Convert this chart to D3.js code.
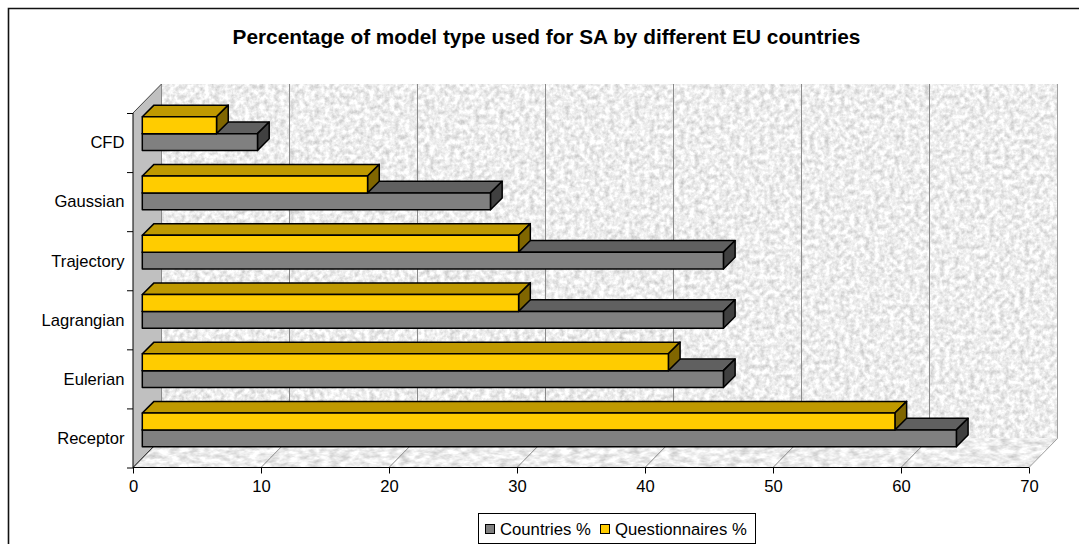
<!DOCTYPE html>
<html>
<head>
<meta charset="utf-8">
<script src="https://cdn.jsdelivr.net/npm/d3@7"></script>
<style>
html,body{margin:0;padding:0;background:#fff;overflow:hidden}
svg{display:block}
text{font-family:"Liberation Sans",Arial,sans-serif;fill:#000}
</style>
</head>
<body>
<svg id="chart" width="1079" height="544"></svg>
<script>
const categories = ["Receptor", "Eulerian", "Lagrangian", "Trajectory", "Gaussian", "CFD"];
const countries = [63.6, 45.4, 45.4, 45.4, 27.2, 9.0];
const questionnaires = [58.8, 41.1, 29.4, 29.4, 17.6, 5.8];
const xTicks = [0, 10, 20, 30, 40, 50, 60, 70];
const seriesNames = ["Countries %", "Questionnaires %"];

const svg = d3.select("#chart");

// Oblique projection of the chart box
const depthX = 28.5, depthY = -29;
const barShiftX = 9.3, barShiftY = -8;
const barDepthX = 11.7, barDepthY = -11.7;

const x = d3.scaleLinear().domain([0, 70]).range([133, 1029]);
const yEdge = d3.scaleLinear().domain([0, 6]).range([467.5, 113]);
const yBand = d3.scaleBand().domain(categories).range([467.5, 112]);
const barH = 16.8;

// Stone-like surface fills
const defs = svg.append("defs");
function stone(id, freq, seed) {
  const f = defs.append("filter").attr("id", id)
    .attr("x", 0).attr("y", 0).attr("width", 1).attr("height", 1)
    .attr("color-interpolation-filters", "sRGB");
  f.append("feTurbulence").attr("type", "fractalNoise")
    .attr("baseFrequency", freq).attr("numOctaves", 3).attr("seed", seed).attr("result", "n");
  f.append("feColorMatrix").attr("in", "n").attr("type", "matrix")
    .attr("values", "0.38 0 0 0 0.74  0.38 0 0 0 0.74  0.38 0 0 0 0.74  0 0 0 0 1")
    .attr("result", "c");
  f.append("feGaussianBlur").attr("in", "c").attr("stdDeviation", 0.7).attr("result", "b");
  f.append("feComposite").attr("in", "b").attr("in2", "SourceAlpha").attr("operator", "in");
}
stone("wallStone", "0.2", 4);
stone("floorStone", "0.1 0.22", 9);

const poly = pts => pts.map(p => p.join(",")).join(" ");
const x0 = x(0), x70 = x(70), yB = yEdge(0), yT = yEdge(6);

// Chart frame
svg.append("path").attr("d", `M8.5,544 V8.5 H1079`).attr("fill", "none")
  .attr("stroke", "#111").attr("stroke-width", 1.6);

// Back wall, floor and left wall
svg.append("polygon")
  .attr("points", poly([[x0 + depthX, yT + depthY], [x70 + depthX, yT + depthY], [x70 + depthX, yB + depthY], [x0 + depthX, yB + depthY]]))
  .attr("fill", "#000").attr("filter", "url(#wallStone)");
svg.append("polygon")
  .attr("points", poly([[x0, yB], [x70, yB], [x70 + depthX, yB + depthY], [x0 + depthX, yB + depthY]]))
  .attr("fill", "#000").attr("filter", "url(#floorStone)");
svg.append("polygon")
  .attr("points", poly([[x0, yT], [x0 + depthX, yT + depthY], [x0 + depthX, yB + depthY], [x0, yB]]))
  .attr("fill", "#c0c0c0");

// Gridlines running across the floor and up the back wall
svg.append("g").selectAll("polyline").data(xTicks).join("polyline")
  .attr("points", d => poly([[x(d), yB], [x(d) + depthX, yB + depthY], [x(d) + depthX, yT + depthY]]))
  .attr("fill", "none").attr("stroke", d => d === 70 ? "#a0a0a0" : "#8a8a8a").attr("stroke-width", 1);

// Darker outer edges of the left wall
svg.append("polyline")
  .attr("points", poly([[x0, yT], [x0 + depthX, yT + depthY]]))
  .attr("fill", "none").attr("stroke", "#444").attr("stroke-width", 1);
svg.append("polyline")
  .attr("points", poly([[x0, yB], [x0 + depthX, yB + depthY]]))
  .attr("fill", "none").attr("stroke", "#222").attr("stroke-width", 1);

// Draws one extruded bar: top, end cap, then front face
function bar(g, xEnd, yTop, front, top, side) {
  const l = x(0) + barShiftX, r = xEnd + barShiftX, b = yTop + barH;
  const dx = barDepthX, dy = barDepthY;
  const face = g.append("g").attr("stroke", "#000").attr("stroke-width", 1.5).attr("stroke-linejoin", "round");
  face.append("polygon").attr("points", poly([[l, yTop], [l + dx, yTop + dy], [r + dx, yTop + dy], [r, yTop]])).attr("fill", top);
  face.append("polygon").attr("points", poly([[r, yTop], [r + dx, yTop + dy], [r + dx, b + dy], [r, b]])).attr("fill", side);
  face.append("rect").attr("x", l).attr("y", yTop).attr("width", r - l).attr("height", barH).attr("fill", front);
}

const barsLayer = svg.append("g");
categories.map((c, i) => i).reverse().forEach(i => {
  const mid = yBand(categories[i]) + yBand.bandwidth() / 2 + barShiftY;
  const g = barsLayer.append("g");
  bar(g, x(countries[i]), mid, "#808080", "#606060", "#404040");
  bar(g, x(questionnaires[i]), mid - barH, "#ffcc00", "#bf9900", "#806600");
});

// Axes
const xAxis = svg.append("g").attr("transform", `translate(0,${yB})`)
  .call(d3.axisBottom(x).tickValues(xTicks).tickSize(6).tickPadding(5).tickFormat(d3.format("d")));
xAxis.selectAll("text").attr("font-size", 16.6).style("font-family", '"Liberation Sans"').attr("fill", "#000").attr("y", 13);
xAxis.selectAll("path,line").attr("stroke", "#000").attr("stroke-width", 1);
xAxis.select(".domain").attr("d", `M${x0},0H${x70}`);

const yAxis = svg.append("g").attr("transform", `translate(${x0},0)`)
  .call(d3.axisLeft(yEdge).tickValues(d3.range(7)).tickSize(6).tickFormat(""));
yAxis.selectAll("path,line").attr("stroke", "#000").attr("stroke-width", 1);
yAxis.select(".domain").attr("d", `M0,${yT}V${yB}`);

svg.append("g").selectAll("text").data(categories).join("text")
  .attr("x", 124.5)
  .attr("y", d => yBand(d) + yBand.bandwidth() / 2 + 6.5)
  .attr("text-anchor", "end").attr("font-size", 16.6).text(d => d);

// Title
svg.append("text").attr("x", 546.5).attr("y", 44).attr("text-anchor", "middle")
  .attr("font-size", 20.8).attr("font-weight", "bold")
  .text("Percentage of model type used for SA by different EU countries");

// Legend
const legend = svg.append("g");
legend.append("rect").attr("x", 478.5).attr("y", 513.5).attr("width", 277).attr("height", 30)
  .attr("fill", "#fff").attr("stroke", "#000").attr("stroke-width", 1);
const legendItems = [[485, 500, "#808080"], [600, 615, "#ffcc00"]];
legendItems.forEach(([sx, tx, col], i) => {
  legend.append("rect").attr("x", sx + 0.5).attr("y", 524.5).attr("width", 9).attr("height", 9)
    .attr("fill", col).attr("stroke", "#000").attr("stroke-width", 1);
  legend.append("text").attr("x", tx).attr("y", 535).attr("font-size", 16.7).text(seriesNames[i]);
});
</script>
</body>
</html>
